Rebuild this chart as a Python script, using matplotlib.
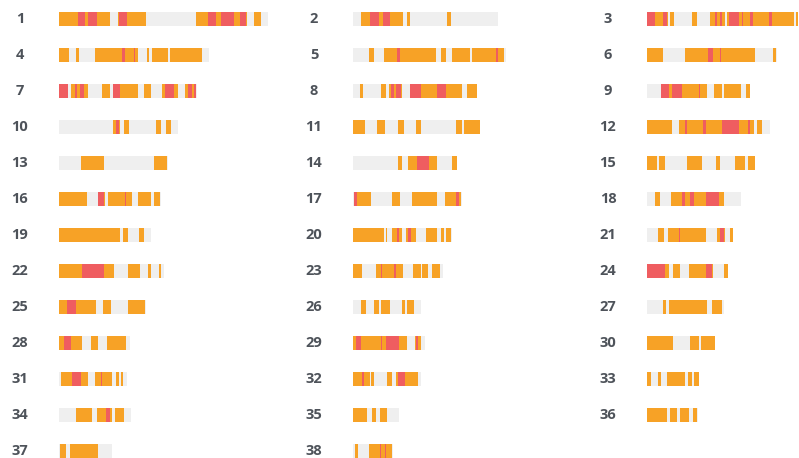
import matplotlib.pyplot as plt

# chromosome numbers and their drawn lengths
chrom_labels = [str(i) for i in range(1, 39)]
chrom_lengths = [209, 145.3, 151, 150.3, 152.7, 130, 137.7, 124.3, 103.3, 118.7,
                 127, 122.7, 108.7, 104.3, 108.3, 102, 108.7, 94.3, 92, 99.3,
                 85.7, 105, 90, 81, 86.7, 67.7, 76.7, 71, 72, 67.7,
                 68.3, 67.7, 52.3, 72, 46, 51, 53.3, 40]

# orange runs (start, end) per chromosome
orange_segs = [
    [(0, 51), (58.7, 86.7), (137.3, 187.5), (195.3, 201.7)],
    [(7.7, 50), (53.7, 56.7), (93.7, 97.7)],
    [(8.3, 21), (23.3, 26.7), (45, 50), (62.7, 77.7), (80, 146.7), (149, 151)],
    [(0, 10.3), (16.7, 20), (36, 79.3), (87.7, 90.3), (92.7, 109.3), (111.3, 142.7)],
    [(16, 21), (31, 83.3), (87.7, 92.7), (99.3, 116.7), (119.3, 151)],
    [(0, 16), (38.3, 107.7), (125.7, 129.3)],
    [(12, 29.3), (43.3, 51), (54.3, 78.7), (85.3, 91.7), (102.7, 118.7), (126, 137)],
    [(7, 10), (28.3, 33.3), (35.5, 49), (57, 108.7), (114.3, 123.7)],
    [(14.3, 60), (66.7, 75), (77, 94.3), (99.3, 102.7)],
    [(54.3, 61.3), (65, 70), (96.7, 102), (107, 112)],
    [(0, 12), (24.3, 32), (45.3, 51), (62.7, 67.7), (102.7, 109.3), (111, 127)],
    [(0, 25), (31.7, 106.7), (110, 115)],
    [(22, 45.3), (95.3, 107.7)],
    [(45, 48.7), (54.7, 84.3), (99.3, 104.3)],
    [(0, 10), (12.3, 18.3), (40, 55), (69, 72.7), (88.3, 98.3), (101, 107.7)],
    [(0, 27.7), (38.5, 46), (49.3, 73.3), (79.3, 92), (95, 101.3)],
    [(1, 17.7), (38.7, 46.7), (58.7, 84.3), (92, 107.7)],
    [(8.3, 13.3), (24.3, 76.7)],
    [(0, 61), (64.3, 69), (80.3, 84.7)],
    [(0, 31), (32.7, 34), (39.3, 49.3), (53.3, 62.7), (73.3, 84.3), (87.7, 91), (92.7, 97.7)],
    [(10.7, 16.7), (20.7, 59), (70, 77.7), (83.3, 85.7)],
    [(0, 55), (69.3, 81), (88.7, 91.7), (100, 102)],
    [(0, 8.7), (22.7, 50), (60, 67.7), (69.3, 75.3), (79.3, 86.7)],
    [(17.7, 21.7), (26, 33.3), (41.7, 66), (76.7, 80.7)],
    [(0, 37), (44.3, 51.7), (68.7, 86)],
    [(7.7, 12.7), (21, 26), (27.7, 37), (48.7, 52), (54.3, 61)],
    [(15.7, 19), (22.3, 60), (65, 75)],
    [(0, 22.7), (32, 39.3), (47.7, 67)],
    [(0, 53.7), (62, 68.3)],
    [(0, 25.7), (42.7, 51.7), (54, 67.7)],
    [(2, 29.3), (36, 53.3), (57, 60.3), (62, 64.3)],
    [(0, 16.7), (18, 21), (34.3, 39.3), (42.7, 65)],
    [(0, 4.3), (11, 14.3), (20, 38.3), (41, 45), (47.3, 51.7)],
    [(17.3, 32.7), (37.7, 52.7), (56, 65)],
    [(0, 14.3), (18.7, 23.3), (27, 34.3)],
    [(0, 20), (23.3, 30), (32.7, 41.7), (45.7, 50)],
    [(0.7, 6.7), (11, 39.3)],
    [(2, 5), (16, 39.3)],
]

# red runs drawn over the orange
red_segs = [
    [(18.7, 26), (29.3, 37.7), (60.3, 68.3), (149.3, 157), (161.7, 175.3), (181, 187)],
    [(16.7, 26), (30.3, 36.7)],
    [(0, 8.3), (16, 20), (67.7, 70), (73.3, 75), (82.3, 91.7), (95, 96), (103.3, 106), (122.3, 125)],
    [(62.7, 66), (74.7, 76)],
    [(44.3, 46.7), (142.7, 145.3)],
    [(61, 65.7), (72.7, 74.3)],
    [(0, 8.7), (16, 18), (21, 25.3), (54.3, 61), (106, 115.3), (128.7, 132.7), (135, 137)],
    [(37.7, 41), (42.7, 47.7), (57, 67.7), (84.3, 92.7)],
    [(14.3, 21.7), (25, 35), (51.7, 53.3)],
    [(56.7, 60)],
    [],
    [(38.3, 40), (56, 59.3), (75, 91.7), (101, 103.3)],
    [],
    [(63.7, 76)],
    [],
    [(39.3, 45.3), (66, 67.3)],
    [(1, 3.7), (103.3, 106)],
    [(35, 38.3), (43.3, 46.7), (59.3, 71.7)],
    [],
    [(44.3, 46), (55.3, 57.7)],
    [(31.7, 33.3), (73.3, 76.7)],
    [(22.7, 45.3)],
    [(27.7, 29.3), (41, 42.7)],
    [(0, 17.7), (59.3, 65)],
    [(7.7, 16.7)],
    [],
    [],
    [(5.3, 12)],
    [(2.7, 7.7), (27.7, 29.3), (32.7, 46), (63.3, 64.7)],
    [],
    [(12.7, 22), (41.7, 43.3)],
    [(9.3, 11), (45.3, 52)],
    [],
    [(47, 51)],
    [],
    [],
    [],
    [(27, 28.3), (32, 33.3)],
]

GREY = '#efefef'
ORANGE = '#f7a226'
RED = '#ef5d60'

fig = plt.figure(figsize=(7.99, 4.58), dpi=100)
ax = fig.add_axes([0, 0, 1, 1])
ax.set_xlim(0, 799)
ax.set_ylim(458, 0)
ax.axis('off')

bar_h = 14
for i, lab in enumerate(chrom_labels):
    col, row = i % 3, i // 3
    x0 = 59 + 294 * col
    yc = 18.7 + 36 * row
    ybar = (yc - bar_h / 2, bar_h)
    ax.broken_barh([(x0, chrom_lengths[i])], ybar, facecolor=GREY, edgecolor='none')
    ax.broken_barh([(x0 + s, e - s) for s, e in orange_segs[i]], ybar,
                   facecolor=ORANGE, edgecolor='none')
    if red_segs[i]:
        ax.broken_barh([(x0 + s, e - s) for s, e in red_segs[i]], ybar,
                       facecolor=RED, edgecolor='none')
    ax.text(x0 - 39, yc, lab, ha='center', va='center', fontsize=10.5,
            fontweight='bold', color='#4e535a', family='Open Sans')

plt.savefig('out.png', dpi=100)
